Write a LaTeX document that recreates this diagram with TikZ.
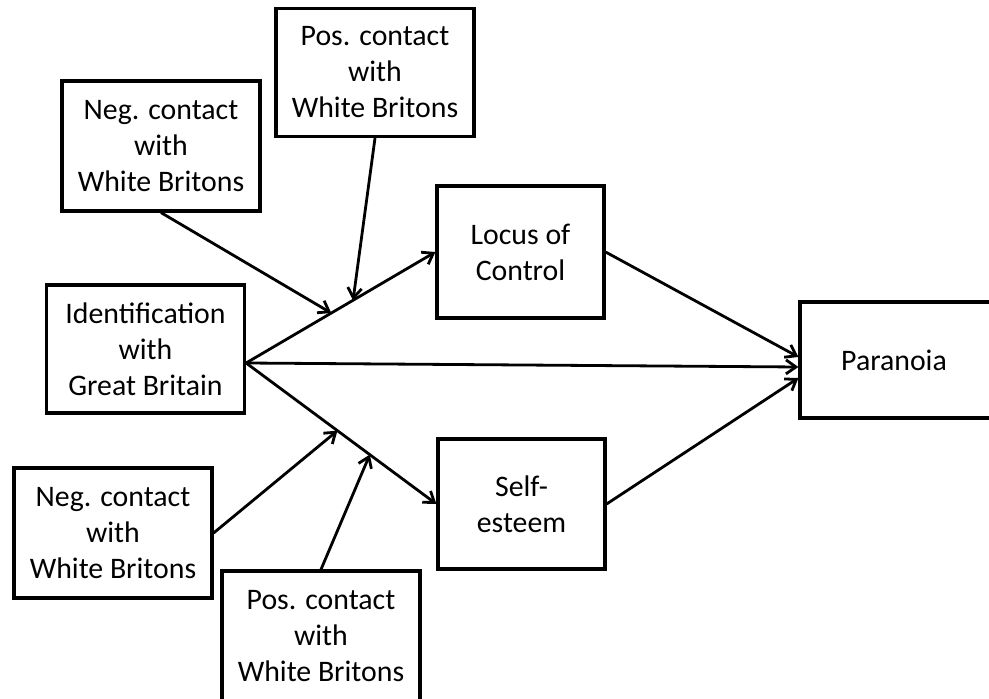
\documentclass[tikz,border=0pt]{standalone}
\usepackage{fontspec}
\setmainfont{Carlito}
\usetikzlibrary{arrows.meta}

\begin{document}
\begin{tikzpicture}[x=0.5pt,y=-0.5pt,line width=1.4pt,
  >={Straight Barb[length=5pt,width=7pt]},
  box/.style={draw,line width=1.6pt,align=center,inner sep=0pt,
    font=\fontsize{14.9}{18}\selectfont}]
\useasboundingbox (0,0) rectangle (989,699);
\def\bw{99pt}
\node[box,minimum width=\bw,minimum height=65pt] (negtop) at (161,146) {Neg. contact\\with\\White Britons};
\node[box,minimum width=\bw,minimum height=64pt] (postop) at (375,72.5) {Pos. contact\\with\\White Britons};
\node[box,minimum width=\bw,minimum height=64pt] (ident) at (145.5,349) {Identification\\with\\Great Britain};
\node[box,minimum width=83.5pt,minimum height=66pt] (locus) at (520.5,252) {Locus of\\Control};
\node[box,minimum width=83.5pt,minimum height=65pt] (self) at (521.5,504) {Self-\\esteem};
\node[box,minimum width=100pt,minimum height=58pt] (para) at (900,360) {\hspace*{-6pt}Paranoia};
\node[box,minimum width=\bw,minimum height=65pt] (negbot) at (113,533) {Neg. contact\\with\\White Britons};
\node[box,minimum width=\bw,minimum height=65pt] (posbot) at (321,636) {Pos. contact\\with\\White Britons};
\coordinate (src) at ([yshift=-7pt]ident.east);
\draw[->] (src) -- coordinate[pos=.45] (up1) coordinate[pos=.565] (up2) (locus.west);
\draw[->] (src) -- coordinate[pos=.48] (dn1) coordinate[pos=.65] (dn2) (self.west);
\draw[->] (src) -- ([yshift=-3.5pt]para.west);
\draw[->] (locus.east) -- ([yshift=1.5pt]para.west);
\draw[->] (self.east) -- ([yshift=-9pt]para.west);
\draw[->] (negtop.south) -- (up1);
\draw[->] (postop.south) -- (up2);
\draw[->] (negbot.east) -- (dn1);
\draw[->] (posbot.north) -- (dn2);
\end{tikzpicture}
\end{document}
